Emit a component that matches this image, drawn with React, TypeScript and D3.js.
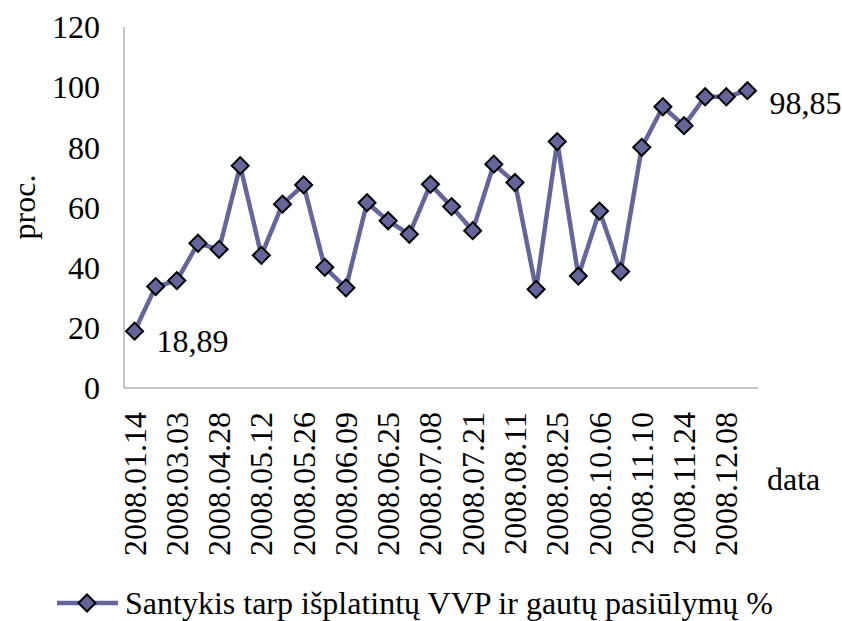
import React, { useRef, useEffect } from "react";
import * as d3 from "d3";

// auction dates (only every other one is labelled on the axis)
const dates = [
  "2008.01.14", "2008.02.11", "2008.03.03", "2008.03.31", "2008.04.28",
  "2008.05.05", "2008.05.12", "2008.05.19", "2008.05.26", "2008.06.02",
  "2008.06.09", "2008.06.16", "2008.06.25", "2008.06.30", "2008.07.08",
  "2008.07.14", "2008.07.21", "2008.07.28", "2008.08.11", "2008.08.18",
  "2008.08.25", "2008.09.08", "2008.10.06", "2008.10.20", "2008.11.10",
  "2008.11.17", "2008.11.24", "2008.12.01", "2008.12.08", "2008.12.15",
];

const values = [
  18.89, 33.7, 35.7, 48.1, 46.1, 73.9, 44.1, 61.1, 67.5, 40.1,
  33.3, 61.6, 55.6, 51.1, 67.7, 60.3, 52.3, 74.4, 68.3, 32.8,
  81.9, 37.2, 58.8, 38.7, 80.0, 93.5, 87.2, 96.8, 96.8, 98.85,
];

const yTicks = [0, 20, 40, 60, 80, 100, 120];
const seriesName = "Santykis tarp išplatintų VVP ir gautų pasiūlymų %";

const FONT = "Liberation Serif, DejaVu Serif, serif";
const LINE = "#65659b";

const App = () => {
  const svgRef = useRef(null);

  useEffect(() => {
    const width = 842;
    const height = 621;
    const margin = { top: 27, bottom: 233, left: 124, right: 84 };

    const svg = d3.select(svgRef.current);
    svg.selectAll("*").remove();
    svg.attr("font-family", FONT).attr("font-size", 32);

    const x = d3
      .scaleBand()
      .domain(d3.range(values.length))
      .range([margin.left, width - margin.right]);

    const y = d3
      .scaleLinear()
      .domain([0, 120])
      .range([height - margin.bottom, margin.top]);

    const cx = (i) => x(i) + x.bandwidth() / 2;

    // axes lines
    svg
      .append("line")
      .attr("x1", margin.left)
      .attr("x2", margin.left)
      .attr("y1", y(120))
      .attr("y2", y(0))
      .attr("stroke", "#8c8c8c")
      .attr("stroke-width", 1);
    svg
      .append("line")
      .attr("x1", margin.left)
      .attr("x2", width - margin.right)
      .attr("y1", y(0))
      .attr("y2", y(0))
      .attr("stroke", "#8c8c8c")
      .attr("stroke-width", 1);

    // y tick labels
    svg
      .append("g")
      .selectAll("text")
      .data(yTicks)
      .join("text")
      .attr("x", 100)
      .attr("y", (d) => y(d))
      .attr("dy", "0.35em")
      .attr("text-anchor", "end")
      .text((d) => d);

    // x tick labels, every other date
    svg
      .append("g")
      .selectAll("text")
      .data(dates.map((d, i) => ({ d, i })).filter((o) => o.i % 2 === 0))
      .join("text")
      .attr(
        "transform",
        (o) => `translate(${cx(o.i) + 11}, ${y(0) + 24}) rotate(-90)`
      )
      .attr("text-anchor", "end")
      .text((o) => o.d);

    // axis titles
    svg
      .append("text")
      .attr("transform", `translate(35, ${207}) rotate(-90)`)
      .attr("text-anchor", "middle")
      .text("proc.");
    svg
      .append("text")
      .attr("x", 767)
      .attr("y", 490)
      .text("data");

    // series line
    const line = d3
      .line()
      .x((d, i) => cx(i))
      .y((d) => y(d));

    svg
      .append("path")
      .datum(values)
      .attr("d", line)
      .attr("fill", "none")
      .attr("stroke", LINE)
      .attr("stroke-width", 4.5)
      .attr("stroke-linejoin", "round");

    const diamond = d3.symbol().type(d3.symbolSquare).size(145);

    svg
      .append("g")
      .selectAll("path")
      .data(values)
      .join("path")
      .attr("d", diamond)
      .attr("transform", (d, i) => `translate(${cx(i)}, ${y(d)}) rotate(45)`)
      .attr("fill", LINE)
      .attr("stroke", "#000")
      .attr("stroke-width", 2);

    // data labels for first and last
    const fmt = (v) => v.toFixed(2).replace(".", ",");
    svg
      .append("text")
      .attr("x", cx(0) + 22)
      .attr("y", y(values[0]) + 21)
      .text(fmt(values[0]));
    const last = values.length - 1;
    svg
      .append("text")
      .attr("x", cx(last) + 22)
      .attr("y", y(values[last]) + 23)
      .text(fmt(values[last]));

    // legend
    svg
      .append("line")
      .attr("x1", 57)
      .attr("x2", 118)
      .attr("y1", 603)
      .attr("y2", 603)
      .attr("stroke", LINE)
      .attr("stroke-width", 4.5);
    svg
      .append("path")
      .attr("d", diamond)
      .attr("transform", "translate(87, 603) rotate(45)")
      .attr("fill", LINE)
      .attr("stroke", "#000")
      .attr("stroke-width", 2);
    svg
      .append("text")
      .attr("x", 125)
      .attr("y", 614)
      .text(seriesName);
  }, []);

  return (
    <svg
      ref={svgRef}
      width={842}
      height={621}
      style={{ position: "absolute", left: 0, top: 0, background: "#fff" }}
    ></svg>
  );
};

export default App;
